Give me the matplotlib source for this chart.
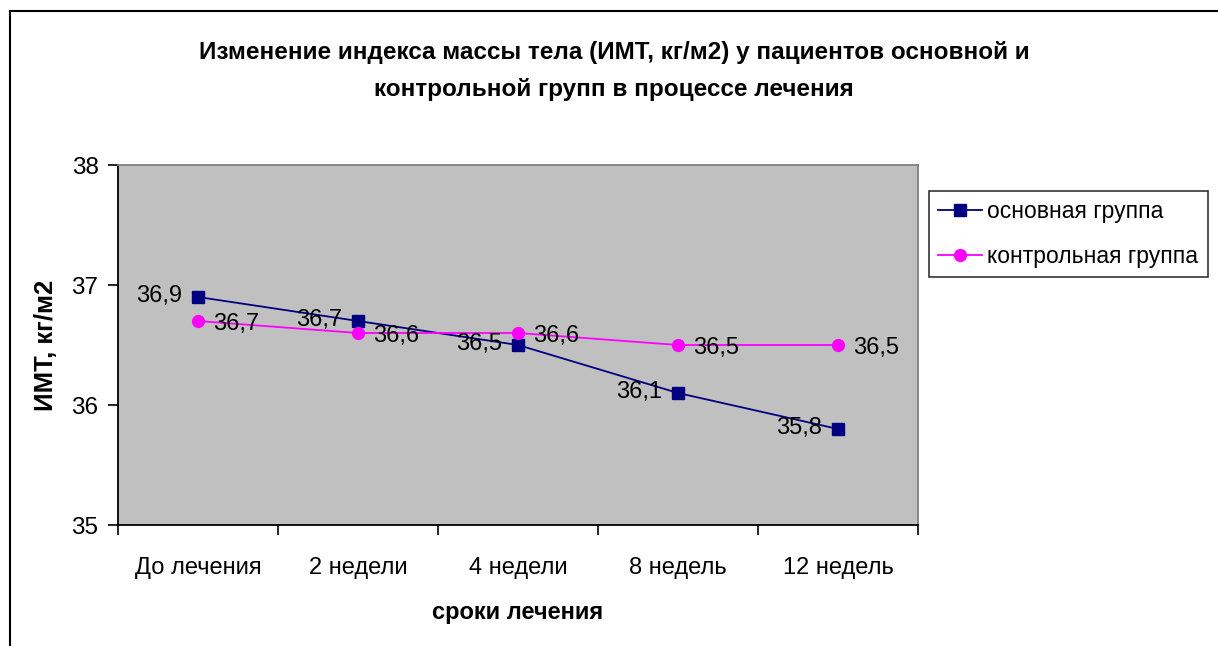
import matplotlib
matplotlib.use("Agg")
import matplotlib.pyplot as plt
from matplotlib.lines import Line2D

plt.rcParams['font.family'] = ['Liberation Sans', 'DejaVu Sans']

categories = ["До лечения", "2 недели", "4 недели", "8 недель", "12 недель"]
main_group = [36.9, 36.7, 36.5, 36.1, 35.8]
control_group = [36.7, 36.6, 36.6, 36.5, 36.5]
main_name = "основная группа"
control_name = "контрольная группа"
title = "Изменение индекса массы тела (ИМТ, кг/м2) у пациентов основной и\nконтрольной групп в процессе лечения"
xlabel = "сроки лечения"
ylabel = "ИМТ, кг/м2"

W, H = 1218, 646
fig = plt.figure(figsize=(W / 100, H / 100), dpi=100)
fig.patch.set_facecolor('white')

ax = fig.add_axes([118 / W, 1 - 525 / H, 800 / W, 360 / H])
ax.set_facecolor('#C0C0C0')

x = list(range(len(categories)))
ax.plot(x, main_group, color='#000080', marker='s', markersize=8.5, linewidth=1.3,
        label=main_name, zorder=3)
ax.plot(x, control_group, color='#FF00FF', marker='o', markersize=8.5, linewidth=1.3,
        label=control_name, zorder=3)

def fmt(v):
    return f"{v:.1f}".replace('.', ',')

for xi, v in zip(x, main_group):
    ax.annotate(fmt(v), (xi, v), xytext=(-16, 1), textcoords='offset pixels',
                ha='right', va='center', fontsize=17, color='black')
for xi, v in zip(x, control_group):
    ax.annotate(fmt(v), (xi, v), xytext=(15, -3), textcoords='offset pixels',
                ha='left', va='center', fontsize=17, color='black')

ax.set_xlim(-0.5, len(categories) - 0.5)
ax.set_ylim(35, 38)
ax.set_yticks([35, 36, 37, 38])
ax.set_yticklabels(['35', '36', '37', '38'], fontsize=17.5)
ax.set_xticks(x)
ax.set_xticklabels(categories, fontsize=17)
ax.set_xticks([i - 0.5 for i in range(len(categories) + 1)], minor=True)
ax.tick_params(axis='x', which='major', length=0, pad=23)
ax.tick_params(axis='x', which='minor', length=7, width=1.2, direction='out')
ax.tick_params(axis='y', length=7, width=1.2, direction='out', pad=7)

for s in ['left', 'bottom']:
    ax.spines[s].set_color('black')
    ax.spines[s].set_linewidth(1.3)
for s in ['top', 'right']:
    ax.spines[s].set_color('#808080')
    ax.spines[s].set_linewidth(1.3)

ax.set_xlabel(xlabel, fontsize=17, fontweight='bold', labelpad=16)
ax.set_ylabel(ylabel, fontsize=18.5, fontweight='bold', labelpad=10)

fig.text(614 / W, 1 - 71 / H, title, ha='center', va='center', fontsize=17.5,
         fontweight='bold', linespacing=1.75)

leg = ax.legend(loc='upper left', bbox_to_anchor=(929 / W, 1 - 191 / H),
                bbox_transform=fig.transFigure, fontsize=16.5, frameon=True,
                fancybox=False, edgecolor='black', borderpad=0.4,
                handlelength=1.9, handletextpad=0.25, labelspacing=0.95,
                borderaxespad=0)
leg.get_frame().set_linewidth(1.2)

fig.add_artist(Line2D([10 / W, 10 / W], [0, 1 - 11 / H], transform=fig.transFigure,
                      color='black', linewidth=1.5))
fig.add_artist(Line2D([10 / W, 1], [1 - 11 / H, 1 - 11 / H], transform=fig.transFigure,
                      color='black', linewidth=1.5))

fig.savefig('out.png', dpi=100)
